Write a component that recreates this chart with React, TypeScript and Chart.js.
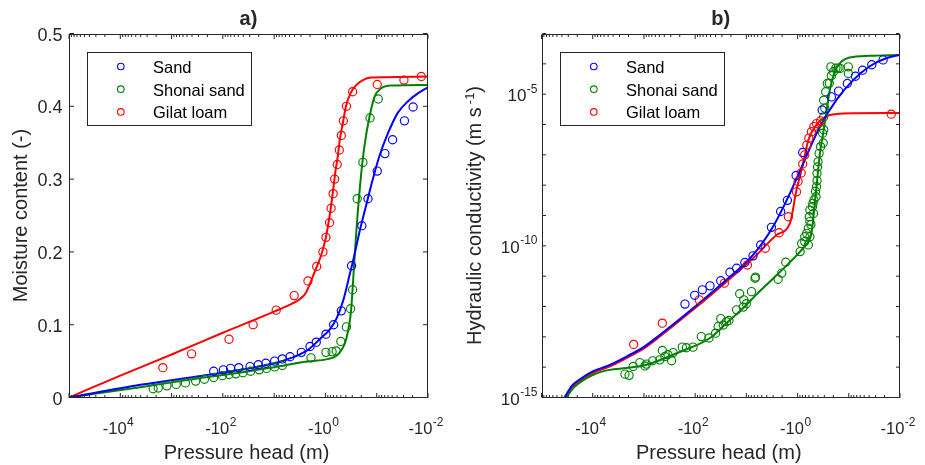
import React, { useEffect, useRef } from "react";
import { Chart, registerables } from "chart.js";

Chart.register(...registerables);

// ---------------- series names / colours ----------------
const SERIES_NAMES = ["Sand", "Shonai sand", "Gilat loam"];
const SERIES_COLORS = ["#0000ff", "#008000", "#ff0000"];

// ---------------- axis ticks ----------------
const X_TICK_VALUES = [1e4, 1e2, 1e0, 1e-2];
const X_TICK_EXPONENTS = ["4", "2", "0", "-2"];
const THETA_TICKS = [0, 0.1, 0.2, 0.3, 0.4, 0.5];
const THETA_TICK_LABELS = ["0", "0.1", "0.2", "0.3", "0.4", "0.5"];
const K_TICK_VALUES = [1e-15, 1e-10, 1e-5];
const K_TICK_EXPONENTS = ["-15", "-10", "-5"];

// ---------------- panel a) moisture content: observations ----------------
const sandThetaObsH = [-151, -97.7, -70.8, -49.0, -29.5, -20.4, -14.5, -9.77, -6.92, -4.9, -2.95, -2.0, -1.51, -0.977, -0.692, -0.49, -0.309, -0.195, -0.148, -0.0977, -0.0692, -0.049, -0.0288, -0.0195];
const sandThetaObs = [0.036, 0.038, 0.040, 0.041, 0.0425, 0.045, 0.047, 0.050, 0.053, 0.056, 0.062, 0.070, 0.076, 0.087, 0.100, 0.119, 0.181, 0.236, 0.273, 0.311, 0.335, 0.354, 0.380, 0.399];

const shonaiThetaObsH = [-2291, -1820, -1230, -813, -537, -339, -229, -151, -102, -75.9, -56.2, -40.7, -28.8, -19.5, -14.1, -9.77, -6.92, -1.91, -0.977, -0.741, -0.617, -0.501, -0.389, -0.324, -0.295, -0.24, -0.186, -0.135, -0.0933];
const shonaiThetaObs = [0.012, 0.013, 0.016, 0.018, 0.020, 0.0225, 0.025, 0.0275, 0.030, 0.0316, 0.0325, 0.034, 0.036, 0.038, 0.040, 0.042, 0.044, 0.0545, 0.062, 0.063, 0.064, 0.077, 0.097, 0.122, 0.148, 0.273, 0.323, 0.384, 0.410];

const gilatThetaObsH = [-1480, -407, -75.9, -25.7, -9.12, -4.07, -2.19, -1.48, -1.12, -0.977, -0.832, -0.776, -0.708, -0.661, -0.589, -0.537, -0.49, -0.447, -0.389, -0.295, -0.0977, -0.0295, -0.0135];
const gilatThetaObs = [0.041, 0.060, 0.080, 0.100, 0.120, 0.140, 0.160, 0.180, 0.200, 0.220, 0.240, 0.260, 0.280, 0.300, 0.320, 0.340, 0.360, 0.380, 0.400, 0.420, 0.430, 0.436, 0.441];

// ---------------- panel a) moisture content: fitted curves ----------------
const sandThetaFitH = [-100000, -4074, -204, -44.7, -10, -4.79, -2.24, -1.23, -0.813, -0.603, -0.447, -0.331, -0.295, -0.219, -0.162, -0.12, -0.0891, -0.0603, -0.0389, -0.0245, -0.0155, -0.01];
const sandThetaFit = [0, 0.0174, 0.031, 0.038, 0.047, 0.054, 0.065, 0.0815, 0.094, 0.109, 0.134, 0.171, 0.185, 0.226, 0.263, 0.299, 0.331, 0.363, 0.391, 0.407, 0.418, 0.426];

const shonaiThetaFitH = [-100000, -4074, -204, -44.7, -10, -2.24, -0.912, -0.617, -0.501, -0.398, -0.316, -0.275, -0.251, -0.209, -0.174, -0.138, -0.11, -0.0813, -0.0525, -0.01];
const shonaiThetaFit = [0, 0.0142, 0.028, 0.0343, 0.0417, 0.0494, 0.0527, 0.057, 0.064, 0.079, 0.120, 0.184, 0.226, 0.2945, 0.3448, 0.386, 0.4134, 0.4248, 0.4285, 0.4294];

const gilatThetaFitH = [-100000, -10000, -1000, -100, -10, -4.79, -3.16, -2.4, -1.66, -1.23, -1.0, -0.871, -0.776, -0.708, -0.646, -0.575, -0.525, -0.457, -0.398, -0.324, -0.251, -0.186, -0.129, -0.0708, -0.01];
const gilatThetaFit = [0, 0.030, 0.059, 0.089, 0.118, 0.128, 0.135, 0.144, 0.171, 0.194, 0.217, 0.240, 0.263, 0.285, 0.308, 0.331, 0.354, 0.377, 0.400, 0.418, 0.429, 0.436, 0.4395, 0.440, 0.441];

// ---------------- panel b) hydraulic conductivity: observations ----------------
const sandKObsH = [-158, -102, -72.4, -51.3, -31.6, -20.9, -15.5, -10.7, -7.41, -5.25, -3.24, -2.14, -1.58, -1.07, -0.794, -0.331, -0.219, -0.158, -0.107, -0.0741, -0.0537, -0.0355, -0.0214];
const sandKObs = [1.2e-12, 2.34e-12, 3.55e-12, 4.79e-12, 7.08e-12, 1.35e-11, 1.82e-11, 2.82e-11, 4.68e-11, 1.07e-10, 4.07e-10, 1.35e-9, 3.16e-9, 2.09e-8, 1.2e-7, 3.02e-6, 8.13e-6, 1.26e-5, 2.24e-5, 3.89e-5, 6.17e-5, 9.33e-5, 1.35e-4];

const shonaiKObsH = [-2344, -1950, -1622, -1202, -955, -891, -676, -490, -437, -389, -339, -288, -269, -178, -148, -110, -75.9, -53.7, -39.8, -35.5, -31.6, -28.2, -24.5, -21.9, -15.5, -13.5, -11.5, -11.2, -10.0, -7.94, -6.76, -6.61, -2.4, -2.04, -1.7, -0.891, -0.832, -0.724, -0.617, -0.575, -0.724, -0.661, -0.617, -0.589, -0.55, -0.575, -0.575, -0.49, -0.513, -0.501, -0.479, -0.447, -0.437, -0.427, -0.417, -0.417, -0.407, -0.398, -0.38, -0.355, -0.324, -0.316, -0.309, -0.309, -0.295, -0.309, -0.282, -0.263, -0.24, -0.219, -0.224, -0.2, -0.178, -0.162, -0.148, -0.102, -0.102];
const shonaiKObs = [5.89e-15, 5.37e-15, 1.05e-14, 1.41e-14, 1.1e-14, 1.26e-14, 1.62e-14, 1.74e-14, 3.55e-14, 2.24e-14, 2.57e-14, 1.62e-14, 3.02e-14, 4.57e-14, 4.37e-14, 4.57e-14, 1.02e-13, 9.12e-14, 1.32e-13, 2.19e-13, 3.98e-13, 2.45e-13, 3.16e-13, 3.47e-13, 7.76e-13, 2.63e-12, 9.55e-13, 1.66e-12, 1.23e-12, 3.09e-12, 8.51e-12, 9.33e-12, 7.94e-12, 1.26e-11, 2.88e-11, 6.46e-11, 1.2e-10, 1.38e-10, 1.07e-10, 2.0e-10, 2.0e-10, 2.57e-10, 3.8e-10, 9.12e-10, 5.01e-10, 6.31e-10, 1.51e-9, 1.17e-9, 1.95e-9, 2.51e-9, 3.24e-9, 6.31e-9, 4.17e-9, 8.91e-9, 1.41e-8, 2.45e-8, 3.98e-8, 5.89e-8, 1.12e-7, 1.86e-7, 5.13e-7, 2.45e-7, 6.76e-7, 1.78e-6, 3.47e-6, 6.31e-6, 1.2e-5, 2.24e-5, 2.29e-5, 4.07e-5, 7.94e-5, 5.5e-5, 7.24e-5, 7.24e-5, 7.08e-5, 7.94e-5, 4.79e-5];

const gilatKObsH = [-1585, -437, -83.2, -26.9, -9.55, -4.27, -2.29, -1.51, -1.05, -0.977, -0.851, -0.794, -0.724, -0.661, -0.603, -0.537, -0.479, -0.427, -0.355, -0.0148];
const gilatKObs = [5.62e-14, 2.82e-13, 1.66e-12, 5.89e-12, 2.34e-11, 8.32e-11, 2.69e-10, 9.12e-10, 6.03e-9, 1.32e-8, 2.51e-8, 5.01e-8, 1.0e-7, 2.09e-7, 3.55e-7, 5.75e-7, 8.51e-7, 1.07e-6, 1.32e-6, 2.19e-6];

// ---------------- panel b) hydraulic conductivity: fitted curves ----------------
const sandKFitH = [-35481, -25119, -17783, -10000, -5012, -2188, -1000, -490, -110, -24.5, -7.41, -3.02, -1.41, -0.776, -0.363, -0.174, -0.0813, -0.0389, -0.0182, -0.01];
const sandKFit = [1e-15, 2.51e-15, 3.98e-15, 7.24e-15, 1.12e-14, 2.24e-14, 4.68e-14, 1.15e-13, 8.71e-13, 7.59e-12, 5.01e-11, 4.27e-10, 5.37e-9, 5.25e-8, 8.71e-7, 6.46e-6, 2.95e-5, 8.32e-5, 1.55e-4, 2.0e-4];

const shonaiKFitH = [-33113, -22387, -9772, -4677, -2188, -891, -229, -51.3, -24.5, -11.5, -6.31, -2.4, -0.891, -0.617, -0.537, -0.427, -0.363, -0.316, -0.269, -0.234, -0.186, -0.138, -0.0955, -0.0389, -0.01];
const shonaiKFit = [1e-15, 2.29e-15, 5.62e-15, 8.13e-15, 9.33e-15, 1.2e-14, 2.88e-14, 9.12e-14, 2.82e-13, 8.91e-13, 2.51e-12, 1.2e-11, 6.46e-11, 1.38e-10, 2.57e-10, 8.91e-9, 1.26e-7, 5.25e-7, 3.09e-6, 1.38e-5, 5.62e-5, 1.2e-4, 1.62e-4, 1.84e-4, 1.95e-4];

const gilatKFitH = [-35481, -25119, -17783, -10000, -5012, -2188, -1000, -490, -110, -25.1, -6.31, -2.57, -1.41, -1.05, -0.776, -0.617, -0.427, -0.295, -0.174, -0.0813, -0.01];
const gilatKFit = [1e-15, 2.24e-15, 3.55e-15, 6.46e-15, 1.0e-14, 2.0e-14, 4.17e-14, 1.02e-13, 7.76e-13, 6.31e-12, 5.01e-11, 2.29e-10, 5.5e-10, 6.92e-9, 5.25e-8, 3.09e-7, 9.77e-7, 1.76e-6, 2.21e-6, 2.37e-6, 2.4e-6];

// ---------------- styling ----------------
const FONT = "'Liberation Sans', Arial, Helvetica, sans-serif";
const INK = "#262626";

const pts = (h: number[], v: number[]) => h.map((x, i) => ({ x: Math.abs(x), y: v[i] }));

const obsSet = (label: string, color: string, h: number[], v: number[]) => ({
  label,
  data: pts(h, v),
  showLine: false,
  pointRadius: 4.1,
  pointHoverRadius: 4.1,
  pointBorderWidth: 1.15,
  pointBorderColor: color,
  pointBackgroundColor: "rgba(0,0,0,0)",
  borderColor: color,
  backgroundColor: "rgba(0,0,0,0)",
});

const fitSet = (label: string, color: string, h: number[], v: number[]) => ({
  label,
  data: pts(h, v),
  showLine: true,
  pointRadius: 0,
  pointHoverRadius: 0,
  borderWidth: 2,
  borderColor: color,
  backgroundColor: color,
  cubicInterpolationMode: "monotone" as const,
  fill: false,
});

function powLabel(
  ctx: CanvasRenderingContext2D,
  xRef: number,
  baseline: number,
  base: string,
  exp: string,
  align: "center" | "right",
  baseSize: number,
  expSize: number,
  rise: number
) {
  ctx.font = `${baseSize}px ${FONT}`;
  const wb = ctx.measureText(base).width;
  ctx.font = `${expSize}px ${FONT}`;
  const we = ctx.measureText(exp).width;
  const total = wb + we + 0.5;
  const x0 = align === "center" ? xRef - total / 2 : xRef - total;
  ctx.textAlign = "left";
  ctx.textBaseline = "alphabetic";
  ctx.font = `${baseSize}px ${FONT}`;
  ctx.fillText(base, x0, baseline);
  ctx.font = `${expSize}px ${FONT}`;
  ctx.fillText(exp, x0 + wb + 0.5, baseline - rise);
}

type PanelOpts = {
  title: string;
  kind: "theta" | "k";
};

const decorPlugin = (o: PanelOpts) => ({
  id: "decor",
  afterDatasetsDraw(chart: any) {
    const ctx: CanvasRenderingContext2D = chart.ctx;
    const a = chart.chartArea;
    const xs = chart.scales.x;
    const ys = chart.scales.y;
    const L = Math.round(a.left) + 0.5;
    const R = Math.round(a.right) - 0.5;
    const T = Math.round(a.top) + 0.5;
    const B = Math.round(a.bottom) - 0.5;
    ctx.save();
    ctx.strokeStyle = INK;
    ctx.fillStyle = INK;
    ctx.lineWidth = 1;

    // x ticks (log, decades + minor), top and bottom, inward
    ctx.beginPath();
    for (let k = -2; k <= 5; k++) {
      const px = xs.getPixelForValue(Math.pow(10, k));
      ctx.moveTo(px, B); ctx.lineTo(px, B - 4.5);
      ctx.moveTo(px, T); ctx.lineTo(px, T + 4.5);
      if (k < 5) {
        for (let m = 2; m <= 9; m++) {
          const p = xs.getPixelForValue(m * Math.pow(10, k));
          ctx.moveTo(p, B); ctx.lineTo(p, B - 2.5);
          ctx.moveTo(p, T); ctx.lineTo(p, T + 2.5);
        }
      }
    }
    // y ticks
    if (o.kind === "theta") {
      THETA_TICKS.forEach((v) => {
        const py = ys.getPixelForValue(v);
        ctx.moveTo(L, py); ctx.lineTo(L + 4.5, py);
        ctx.moveTo(R, py); ctx.lineTo(R - 4.5, py);
      });
    } else {
      for (let e = -15; e <= -3; e++) {
        const py = ys.getPixelForValue(Math.pow(10, e));
        ctx.moveTo(L, py); ctx.lineTo(L + 3.5, py);
        ctx.moveTo(R, py); ctx.lineTo(R - 3.5, py);
      }
    }
    ctx.stroke();

    // frame
    ctx.strokeRect(L, T, R - L, B - T);

    // x tick labels
    X_TICK_VALUES.forEach((v, i) => {
      const px = xs.getPixelForValue(v);
      powLabel(ctx, px - 2, 433.5, "-10", X_TICK_EXPONENTS[i], "center", 16.5, 12, 8);
    });

    // y tick labels
    if (o.kind === "theta") {
      ctx.font = `18px ${FONT}`;
      ctx.textAlign = "right";
      ctx.textBaseline = "alphabetic";
      THETA_TICKS.forEach((v, i) => {
        const py = ys.getPixelForValue(v);
        ctx.fillText(THETA_TICK_LABELS[i], a.left - 6.5, py + 7);
      });
    } else {
      K_TICK_VALUES.forEach((v, i) => {
        const py = ys.getPixelForValue(v);
        powLabel(ctx, a.left - 4, py + 7, "10", K_TICK_EXPONENTS[i], "right", 17, 12, 8.5);
      });
    }

    // titles
    const cx = (a.left + a.right) / 2;
    const cy = (a.top + a.bottom) / 2;
    ctx.textAlign = "center";
    ctx.textBaseline = "alphabetic";
    ctx.font = `bold 20px ${FONT}`;
    ctx.fillText(o.title, cx, 24.5);
    ctx.font = `20px ${FONT}`;
    ctx.fillText("Pressure head (m)", cx - 2, 459);

    ctx.save();
    if (o.kind === "theta") {
      ctx.translate(26.5, cy);
      ctx.rotate(-Math.PI / 2);
      ctx.font = `20px ${FONT}`;
      ctx.textAlign = "center";
      ctx.fillText("Moisture content (-)", 0, 0);
    } else {
      ctx.translate(a.left - 60.5, cy);
      ctx.rotate(-Math.PI / 2);
      const main = "Hydraulic conductivity (m s";
      const sup = "-1";
      const close = ")";
      ctx.font = `20px ${FONT}`;
      const wm = ctx.measureText(main).width;
      const wc = ctx.measureText(close).width;
      ctx.font = `13px ${FONT}`;
      const ws = ctx.measureText(sup).width;
      const gap = 3;
      const total = wm + gap + ws + wc;
      const x0 = -total / 2;
      ctx.textAlign = "left";
      ctx.font = `20px ${FONT}`;
      ctx.fillText(main, x0, 0);
      ctx.fillText(close, x0 + wm + gap + ws, 0);
      ctx.font = `13px ${FONT}`;
      ctx.fillText(sup, x0 + wm + gap, -7.5);
    }
    ctx.restore();

    // legend
    const bx = Math.round(a.left + 18) + 0.5;
    const by = Math.round(a.top + 18) + 0.5;
    const bw = 164;
    const bh = 73;
    ctx.fillStyle = "#ffffff";
    ctx.fillRect(bx, by, bw, bh);
    ctx.strokeStyle = INK;
    ctx.lineWidth = 1;
    ctx.strokeRect(bx, by, bw, bh);
    SERIES_NAMES.forEach((name, i) => {
      const ry = by + 14 + i * 22.7;
      ctx.beginPath();
      ctx.strokeStyle = SERIES_COLORS[i];
      ctx.lineWidth = 1.1;
      ctx.arc(bx + 33.3, ry, 3.3, 0, Math.PI * 2);
      ctx.stroke();
      ctx.fillStyle = "#000000";
      ctx.font = `16.5px ${FONT}`;
      ctx.textAlign = "left";
      ctx.textBaseline = "alphabetic";
      ctx.fillText(name, bx + 65.5, ry + 6.5);
    });
    ctx.restore();
  },
});

function makeConfig(kind: "theta" | "k"): any {
  const isTheta = kind === "theta";
  const datasets = isTheta
    ? [
        obsSet(SERIES_NAMES[0], SERIES_COLORS[0], sandThetaObsH, sandThetaObs),
        obsSet(SERIES_NAMES[1], SERIES_COLORS[1], shonaiThetaObsH, shonaiThetaObs),
        obsSet(SERIES_NAMES[2], SERIES_COLORS[2], gilatThetaObsH, gilatThetaObs),
        fitSet(SERIES_NAMES[0] + " fit", SERIES_COLORS[0], sandThetaFitH, sandThetaFit),
        fitSet(SERIES_NAMES[1] + " fit", SERIES_COLORS[1], shonaiThetaFitH, shonaiThetaFit),
        fitSet(SERIES_NAMES[2] + " fit", SERIES_COLORS[2], gilatThetaFitH, gilatThetaFit),
      ]
    : [
        obsSet(SERIES_NAMES[0], SERIES_COLORS[0], sandKObsH, sandKObs),
        obsSet(SERIES_NAMES[1], SERIES_COLORS[1], shonaiKObsH, shonaiKObs),
        obsSet(SERIES_NAMES[2], SERIES_COLORS[2], gilatKObsH, gilatKObs),
        fitSet(SERIES_NAMES[0] + " fit", SERIES_COLORS[0], sandKFitH, sandKFit),
        fitSet(SERIES_NAMES[1] + " fit", SERIES_COLORS[1], shonaiKFitH, shonaiKFit),
        fitSet(SERIES_NAMES[2] + " fit", SERIES_COLORS[2], gilatKFitH, gilatKFit),
      ];
  return {
    type: "scatter",
    data: { datasets },
    options: {
      animation: false,
      responsive: false,
      maintainAspectRatio: false,
      devicePixelRatio: 1,
      events: [],
      layout: {
        padding: isTheta
          ? { left: 69, right: 34, top: 33.5, bottom: 67.5 }
          : { left: 79.5, right: 25, top: 33.5, bottom: 67.5 },
      },
      plugins: {
        legend: { display: false },
        tooltip: { enabled: false },
        title: { display: false },
      },
      scales: {
        x: { type: "logarithmic", min: 1e-2, max: 1e5, reverse: true, display: false },
        y: isTheta
          ? { type: "linear", min: 0, max: 0.5, display: false }
          : { type: "logarithmic", min: 1e-15, max: 1e-3, display: false },
      },
    },
    plugins: [decorPlugin({ title: isTheta ? "a)" : "b)", kind })],
  };
}

export default function App() {
  const leftRef = useRef<HTMLCanvasElement>(null);
  const rightRef = useRef<HTMLCanvasElement>(null);
  useEffect(() => {
    const c1 = new Chart(leftRef.current as HTMLCanvasElement, makeConfig("theta"));
    const c2 = new Chart(rightRef.current as HTMLCanvasElement, makeConfig("k"));
    return () => {
      c1.destroy();
      c2.destroy();
    };
  }, []);
  return (
    <div style={{ position: "fixed", left: 0, top: 0, width: 925, height: 465, background: "#ffffff" }}>
      <canvas
        ref={leftRef}
        width={462}
        height={465}
        style={{ position: "absolute", left: 0, top: 0, width: 462, height: 465 }}
      />
      <canvas
        ref={rightRef}
        width={463}
        height={465}
        style={{ position: "absolute", left: 462, top: 0, width: 463, height: 465 }}
      />
    </div>
  );
}
